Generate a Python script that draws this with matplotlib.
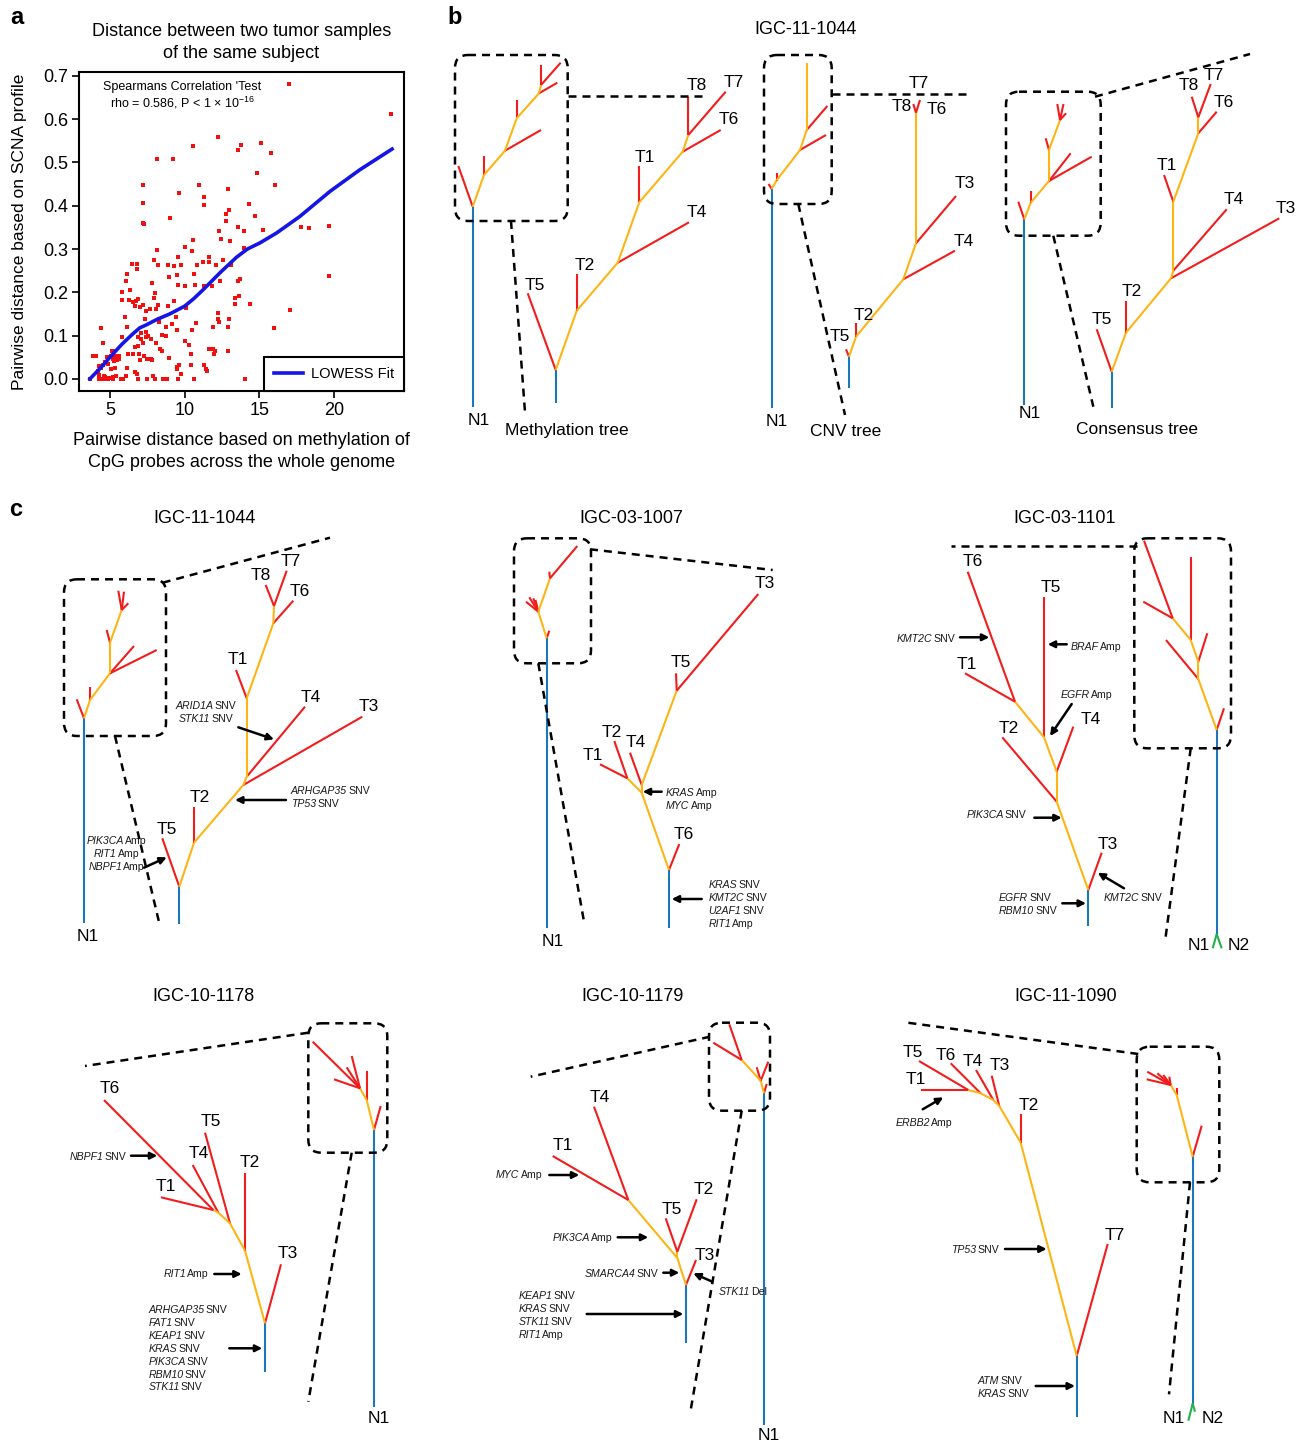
import matplotlib
matplotlib.use("Agg")
import matplotlib.pyplot as plt
from matplotlib.patches import FancyBboxPatch

plt.rcParams['font.family'] = ['Liberation Sans', 'DejaVu Sans']
plt.rcParams['mathtext.fontset'] = 'custom'
plt.rcParams['mathtext.it'] = 'Liberation Sans:italic'
plt.rcParams['mathtext.rm'] = 'Liberation Sans'
plt.rcParams['mathtext.bf'] = 'Liberation Sans:bold'

# ---------------- Panel a data ----------------
meth_dist = [16.97, 23.8, 12.2, 10.57, 13.74, 13.54, 15.1, 15.81, 8.12, 9.21, 14.81, 7.19, 10.93, 16.08, 9.59,
             12.87, 11.29, 11.29, 7.19, 14.32, 9.01, 7.23, 7.27, 13.0, 12.8, 14.68, 12.8, 12.27, 13.56, 13.96,
             15.26, 17.78, 18.31, 19.65, 12.45, 13.03, 10.53, 10.04, 10.49, 8.17, 9.55, 13.96, 7.94, 6.45, 6.78,
             6.83, 8.21, 8.88, 9.26, 9.75, 10.86, 11.22, 11.6, 11.62, 12.09, 12.54, 13.12, 6.11, 6.06, 10.6,
             9.48, 8.92, 7.83, 9.55, 10.04, 10.69, 11.29, 11.82, 12.38, 13.54, 13.7, 19.65, 5.8, 5.8, 6.36,
             7.99, 7.94, 6.3, 6.54, 6.74, 6.85, 6.69, 6.98, 7.23, 8.08, 8.21, 7.39, 7.68, 8.9, 9.26, 10.1,
             13.4, 13.4, 13.65, 14.36, 12.22, 12.25, 12.27, 12.94, 17.06, 6.0, 7.32, 8.3, 8.28, 9.39, 9.15,
             10.75, 4.4, 6.14, 8.72, 11.87, 12.89, 16.01, 7.1, 7.43, 8.46, 8.75, 9.48, 10.46, 5.82, 6.87, 7.05,
             7.39, 7.56, 4.55, 7.19, 7.72, 8.1, 10.04, 10.31, 6.65, 6.87, 8.34, 8.46, 5.13, 5.29, 6.23, 6.56,
             6.94, 11.6, 11.87, 12.0, 11.96, 12.92, 10.42, 3.86, 4.09, 4.82, 5.09, 5.36, 5.62, 7.25, 7.45, 7.72,
             7.81, 8.97, 4.7, 5.2, 5.47, 5.6, 5.3, 4.26, 4.55, 4.9, 6.16, 6.99, 9.64, 9.48, 10.42, 11.27, 11.4,
             11.47, 4.19, 4.42, 5.06, 5.31, 6.69, 6.83, 9.77, 9.48, 3.66, 4.26, 4.44, 4.62, 4.84, 5.18, 5.71,
             5.89, 6.85, 7.5, 7.99, 8.57, 8.83, 9.57, 10.64, 14.03, 4.3, 4.57, 4.68, 5.22, 6.09, 7.85, 5.4, 4.95]
scna_dist = [0.682, 0.613, 0.558, 0.539, 0.540, 0.528, 0.544, 0.522, 0.508, 0.508, 0.476, 0.449, 0.447, 0.447, 0.430,
             0.438, 0.42, 0.402, 0.407, 0.403, 0.372, 0.361, 0.357, 0.39, 0.382, 0.376, 0.364, 0.341, 0.352, 0.342,
             0.345, 0.352, 0.349, 0.353, 0.324, 0.319, 0.32, 0.305, 0.295, 0.298, 0.282, 0.303, 0.275, 0.266, 0.265,
             0.255, 0.262, 0.262, 0.26, 0.262, 0.264, 0.271, 0.281, 0.271, 0.262, 0.275, 0.262, 0.243, 0.227, 0.242,
             0.24, 0.235, 0.222, 0.217, 0.215, 0.218, 0.215, 0.215, 0.225, 0.227, 0.23, 0.237, 0.2, 0.182, 0.205,
             0.199, 0.188, 0.183, 0.178, 0.18, 0.185, 0.168, 0.165, 0.171, 0.161, 0.171, 0.156, 0.161, 0.169, 0.179, 0.164,
             0.174, 0.188, 0.191, 0.174, 0.152, 0.138, 0.131, 0.139, 0.159, 0.144, 0.138, 0.132, 0.139, 0.142, 0.126,
             0.129, 0.117, 0.119, 0.119, 0.119, 0.121, 0.117, 0.106, 0.108, 0.102, 0.1, 0.112, 0.114, 0.096, 0.096, 0.093,
             0.096, 0.098, 0.082, 0.083, 0.092, 0.083, 0.087, 0.078, 0.074, 0.075, 0.069, 0.064, 0.065, 0.064, 0.058, 0.057,
             0.058, 0.07, 0.069, 0.064, 0.058, 0.064, 0.058, 0.052, 0.052, 0.051, 0.052, 0.054, 0.054, 0.052, 0.047, 0.045,
             0.044, 0.048, 0.04, 0.047, 0.043, 0.047, 0.041, 0.029, 0.032, 0.035, 0.026, 0.044, 0.032, 0.027, 0.032, 0.032, 0.022,
             0.019, 0.019, 0.025, 0.022, 0.025, 0.016, 0.012, 0.011, 0.023, 0.0, 0.0, 0.0, 0.0, 0.0, 0.0, 0.0,
             0.0, 0.0, 0.0, 0.0, 0.0, 0.0, 0.0, 0.0, 0.0, 0.008, 0.007, 0.004, 0.004, 0.006, 0.006, 0.006, 0.003]
lowess_x = [3.66, 4.5, 5.0, 5.8, 6.5, 7.0, 7.45, 8.12, 9.0, 10.0, 10.6, 11.24, 12.36, 13.47, 14.2, 15.03, 16.15,
            17.7, 19.72, 21.72, 23.88]
lowess_y = [0.0, 0.03, 0.05, 0.08, 0.103, 0.118, 0.125, 0.137, 0.15, 0.168, 0.185, 0.206, 0.245, 0.281, 0.3,
            0.314, 0.337, 0.375, 0.433, 0.483, 0.531]
x_ticks = [5, 10, 15, 20]
y_ticks = [0.0, 0.1, 0.2, 0.3, 0.4, 0.5, 0.6, 0.7]

# ---------------- Tree data (pixel layout of the figure) ----------------
COL = {'r': '#F21C1C', 'o': '#FDB515', 'b': '#1B76BC', 'g': '#22B24C'}

# Panel b : methylation tree
bm_small_nodes = {'root': (472.7, 407.3), 'a': (472.7, 206.7), 'l1': (458.3, 166), 'b': (484, 175), 'l2': (484, 156),
                  'c': (505, 150.7), 'l3': (541, 130), 'd': (516.7, 118.3), 'l4': (516.7, 100), 'e': (539, 93.3),
                  'l5': (557.3, 82.7), 'f': (541, 85), 'l6': (541, 65), 'l7': (560.7, 62.7)}
bm_small_edges = [('root', 'a', 'b'), ('a', 'l1', 'r'), ('a', 'b', 'o'), ('b', 'l2', 'r'), ('b', 'c', 'o'),
                  ('c', 'l3', 'r'), ('c', 'd', 'o'), ('d', 'l4', 'r'), ('d', 'e', 'o'), ('e', 'l5', 'r'),
                  ('e', 'f', 'o'), ('f', 'l6', 'r'), ('f', 'l7', 'r')]
bm_big_nodes = {'root': (555.7, 402.7), 'A': (555.7, 370), 'T5': (527.7, 293.3), 'B': (576.7, 310.7),
                'T2': (576.7, 274), 'C': (617.7, 262.7), 'T4': (689, 222.3), 'D': (639.3, 202.3), 'T1': (639.3, 165.7),
                'E': (682.7, 151.7), 'T6': (720.7, 130), 'F': (688.3, 135), 'T8': (688.3, 96.7), 'T7': (725.7, 91.7)}
bm_big_edges = [('root', 'A', 'b'), ('A', 'T5', 'r'), ('A', 'B', 'o'), ('B', 'T2', 'r'), ('B', 'C', 'o'),
                ('C', 'T4', 'r'), ('C', 'D', 'o'), ('D', 'T1', 'r'), ('D', 'E', 'o'), ('E', 'T6', 'r'),
                ('E', 'F', 'o'), ('F', 'T8', 'r'), ('F', 'T7', 'r')]
bm_labels = [('T5', 535, 285), ('T2', 585, 265), ('T4', 696.7, 212.3), ('T1', 645, 157), ('T6', 728.3, 120),
             ('T8', 696.7, 85.7), ('T7', 734, 82.3), ('N1', 478.3, 420.7)]
bm_box = (455, 55, 567.7, 221)
bm_dashes = [[(567.7, 95.7), (701.7, 95.7)], [(511, 221), (525, 412.3)]]

# Panel b : CNV tree
bc_small_nodes = {'root': (771.7, 408.3), 'a': (771.7, 189), 'la': (768.5, 184), 'b0': (776.5, 180.5),
                  'lb0': (776.5, 172.5), 'b': (800, 150), 'l1': (826, 135), 'c': (806.7, 130), 'l2': (827.3, 106),
                  'd': (806.7, 62.7)}
bc_small_edges = [('root', 'a', 'b'), ('a', 'la', 'r'), ('a', 'b0', 'o'), ('b0', 'lb0', 'r'), ('b0', 'b', 'o'),
                  ('b', 'l1', 'r'), ('b', 'c', 'o'), ('c', 'l2', 'r'), ('c', 'd', 'o')]
bc_big_nodes = {'root': (849, 388.3), 'A': (849, 356.7), 'T5': (846, 349.3), 'B': (856, 336.7), 'T2': (856, 323.3),
                'C': (903.3, 279.3), 'T4': (955, 250.7), 'D': (916, 243.3), 'T3': (956, 196), 'E': (916, 112.7),
                'T8': (913.3, 104), 'T7': (920, 100)}
bc_big_edges = [('root', 'A', 'b'), ('A', 'T5', 'r'), ('A', 'B', 'o'), ('B', 'T2', 'r'), ('B', 'C', 'o'),
                ('C', 'T4', 'r'), ('C', 'D', 'o'), ('D', 'T3', 'r'), ('D', 'E', 'o'), ('E', 'T8', 'r'),
                ('E', 'T7', 'r')]
bc_labels = [('T5', 840, 336.7), ('T2', 863.3, 315), ('T4', 963.3, 241.7), ('T3', 965, 183.3), ('T8', 901.7, 106.7),
             ('T7', 918.3, 83.3), ('T6', 936.7, 109.3), ('N1', 776.7, 421.7)]
bc_box = (764, 55, 831.7, 204)
bc_dashes = [[(831.7, 94), (966, 94)], [(798.3, 204), (845, 415)]]

# Panel b : consensus tree
bs_small_nodes = {'root': (1024.3, 405), 'a': (1024.3, 219.3), 'l1': (1018.3, 201.7), 'b': (1030.7, 202.7),
                  'l2': (1030.7, 190.7), 'c': (1049, 181), 'l3': (1091.7, 156.7), 'l4': (1070.7, 153.3),
                  'd': (1049, 150), 'l5': (1045.7, 138.3), 'e': (1060, 120), 'l7': (1057.3, 104),
                  'l8': (1063.5, 104), 'l9': (1066, 113.3)}
bs_small_edges = [('root', 'a', 'b'), ('a', 'l1', 'r'), ('a', 'b', 'o'), ('b', 'l2', 'r'), ('b', 'c', 'o'),
                  ('c', 'l3', 'r'), ('c', 'l4', 'r'), ('c', 'd', 'o'), ('d', 'l5', 'r'), ('d', 'e', 'o'),
                  ('e', 'l7', 'r'), ('e', 'l8', 'r'), ('e', 'l9', 'r')]
bs_big_nodes = {'root': (1111.7, 407.7), 'A': (1111.7, 371.7), 'T5': (1096.7, 329.3), 'B': (1126, 332.7),
                'T2': (1126, 300.7), 'C1': (1171, 278.3), 'T3': (1279.3, 218.3), 'C2': (1173.3, 270.7),
                'T4': (1226.7, 209.3), 'D': (1173.3, 201.7), 'T1': (1164, 175), 'E': (1198.3, 133.3),
                'T6': (1216.7, 111.7), 'F': (1198.3, 117.3), 'T8': (1191.7, 96.7), 'T7': (1210.7, 84)}
bs_big_edges = [('root', 'A', 'b'), ('A', 'T5', 'r'), ('A', 'B', 'o'), ('B', 'T2', 'r'), ('B', 'C1', 'o'),
                ('C1', 'T3', 'r'), ('C1', 'C2', 'o'), ('C2', 'T4', 'r'), ('C2', 'D', 'o'), ('D', 'T1', 'r'),
                ('D', 'E', 'o'), ('E', 'T6', 'r'), ('E', 'F', 'o'), ('F', 'T8', 'r'), ('F', 'T7', 'r')]
bs_labels = [('T5', 1101.7, 320), ('T2', 1131.7, 291.7), ('T3', 1286, 208.3), ('T4', 1234, 200), ('T1', 1166.7, 165),
             ('T6', 1224, 102.7), ('T8', 1188.3, 86), ('T7', 1213.3, 75), ('N1', 1029.3, 413.3)]
bs_box = (1006, 91.7, 1100.7, 235.7)
bs_dashes = [[(1095, 96.7), (1250, 54)], [(1053.3, 235.7), (1093.3, 406.7)]]

b_captions = [('Methylation tree', 566.7, 430.7), ('CNV tree', 846, 432), ('Consensus tree', 1136.7, 430)]

# Panel c1 : IGC-11-1044
c1_small_nodes = {'root': (84, 922.7), 'a': (84, 718.3), 'l1': (76.7, 699.3), 'b': (90, 700), 'l2': (90, 686.7),
                  'c': (110, 673.3), 'l3': (156.7, 650), 'l4': (134, 646), 'd': (110, 642.7), 'l5': (106.7, 630),
                  'e': (121.7, 610), 'l6': (118.3, 590.7), 'l7': (128.3, 603.3), 'l8': (124, 591.7)}
c1_small_edges = [('root', 'a', 'b'), ('a', 'l1', 'r'), ('a', 'b', 'o'), ('b', 'l2', 'r'), ('b', 'c', 'o'),
                  ('c', 'l3', 'r'), ('c', 'l4', 'r'), ('c', 'd', 'o'), ('d', 'l5', 'r'), ('d', 'e', 'o'),
                  ('e', 'l6', 'r'), ('e', 'l7', 'r'), ('e', 'l8', 'r')]
c1_big_nodes = {'root': (179.3, 924), 'A': (179.3, 886.7), 'T5': (162.3, 838.3), 'B': (194, 842.7),
                'T2': (194, 806.7), 'C': (243.3, 785), 'T3': (362.3, 716.7), 'C2': (246.7, 776.7),
                'T4': (305, 706.7), 'D': (246.7, 698.3), 'T1': (236, 670), 'E': (273.3, 623.3),
                'T6': (293.3, 600.7), 'F': (274, 606), 'T8': (265.7, 585), 'T7': (286.7, 570.7)}
c1_big_edges = [('root', 'A', 'b'), ('A', 'T5', 'r'), ('A', 'B', 'o'), ('B', 'T2', 'r'), ('B', 'C', 'o'),
                ('C', 'T3', 'r'), ('C', 'C2', 'o'), ('C2', 'T4', 'r'), ('C2', 'D', 'o'), ('D', 'T1', 'r'),
                ('D', 'E', 'o'), ('E', 'T6', 'r'), ('E', 'F', 'o'), ('F', 'T8', 'r'), ('F', 'T7', 'r')]
c1_labels = [('T5', 166.7, 829.3), ('T2', 199.3, 797.7), ('T3', 368.3, 706.7), ('T4', 310.7, 697.3),
             ('T1', 238.3, 660), ('T6', 299.3, 591.7), ('T8', 260.7, 575), ('T7', 290.7, 561), ('N1', 87.3, 936.7)]
c1_box = (64, 579.3, 166, 736)
c1_dashes = [[(162.7, 582.7), (330, 537.7)], [(115, 736), (159.3, 923.3)]]
c1_notes = [(['ARID1A|SNV', 'STK11|SNV'], 'center', 205.7, 705, (238.3, 727.3), (274, 739.3)),
            (['ARHGAP35|SNV', 'TP53|SNV'], 'left', 291, 790, (286, 800), (235, 800)),
            (['PIK3CA|Amp', 'RIT1|Amp', 'NBPF1|Amp'], 'center', 116.7, 840, (144, 867.7), (166.7, 857.3))]

# Panel c2 : IGC-03-1007
c2_small_nodes = {'root': (546.7, 928.3), 'a': (546.7, 638.3), 'l1': (549.3, 630.7), 'b': (538.3, 611.7),
                  'l2': (533.3, 598.3), 'l3': (529.3, 597.3), 'l4': (526, 601.7), 'l5': (535.5, 600),
                  'c': (550, 578.3), 'l6': (549.3, 571.7), 'l7': (577.3, 546)}
c2_small_edges = [('root', 'a', 'b'), ('a', 'l1', 'r'), ('a', 'b', 'o'), ('b', 'l2', 'r'), ('b', 'l3', 'r'),
                  ('b', 'l4', 'r'), ('b', 'l5', 'r'), ('b', 'c', 'o'), ('c', 'l6', 'r'), ('c', 'l7', 'r')]
c2_big_nodes = {'root': (669, 928.3), 'A': (669, 870), 'T6': (679.3, 844), 'B': (641.7, 792.7), 'B2': (641.7, 785),
                'C': (627.3, 778.3), 'T1': (600, 764.3), 'T2': (614.3, 741), 'T4': (630, 752.7),
                'D': (676.7, 690.7), 'T5': (676, 673.3), 'T3': (758.3, 594)}
c2_big_edges = [('root', 'A', 'b'), ('A', 'T6', 'r'), ('A', 'B', 'o'), ('B', 'B2', 'o'), ('B', 'C', 'o'),
                ('C', 'T1', 'r'), ('C', 'T2', 'r'), ('B2', 'T4', 'r'), ('B2', 'D', 'o'), ('D', 'T5', 'r'),
                ('D', 'T3', 'r')]
c2_labels = [('T6', 683.3, 834.3), ('T1', 592.7, 755), ('T2', 611.7, 732.3), ('T4', 636, 742.3),
             ('T5', 681, 662.7), ('T3', 764.3, 583.3), ('N1', 552.3, 941.7)]
c2_box = (514, 538.3, 591, 663.3)
c2_dashes = [[(590, 549.3), (772.7, 570)], [(538.3, 663.3), (584, 921.7)]]
c2_notes = [(['KRAS|Amp', 'MYC|Amp'], 'left', 666, 792.3, (661.7, 791.7), (642.7, 791.7)),
            (['KRAS|SNV', 'KMT2C|SNV', 'U2AF1|SNV', 'RIT1|Amp'], 'left', 708.3, 884.3, (701.7, 899), (671.7, 899))]

# Panel c3 : IGC-03-1101
c3_small_nodes = {'root': (1216.7, 934), 'a': (1216.7, 730), 'l1': (1224, 708.3), 'b': (1198.3, 679),
                  'c': (1198.3, 661.7), 'l2': (1166, 640), 'l3': (1207.3, 633.3), 'd': (1190.7, 640),
                  'l4': (1190.7, 557.3), 'e': (1172.7, 618.3), 'l5': (1143.3, 601.7), 'l6': (1144, 540.7),
                  'N1g': (1212.7, 948.3), 'N2g': (1221.7, 948.3)}
c3_small_edges = [('root', 'a', 'b'), ('a', 'l1', 'r'), ('a', 'b', 'o'), ('b', 'l2', 'r'), ('b', 'c', 'o'),
                  ('c', 'l3', 'r'), ('c', 'd', 'o'), ('d', 'l4', 'r'), ('d', 'e', 'o'), ('e', 'l5', 'r'),
                  ('e', 'l6', 'r'), ('root', 'N1g', 'g'), ('root', 'N2g', 'g')]
c3_big_nodes = {'root': (1088.3, 926), 'A': (1088.3, 890), 'T3': (1101.7, 852.7), 'B': (1056.7, 801.7),
                'T2': (1002.3, 737.3), 'C': (1056.7, 771.7), 'T4': (1073.3, 726.7), 'D': (1044, 737.3),
                'T5': (1044, 597.3), 'E': (1015, 701.7), 'T1': (965, 673.3), 'T6': (967.7, 571.7)}
c3_big_edges = [('root', 'A', 'b'), ('A', 'T3', 'r'), ('A', 'B', 'o'), ('B', 'T2', 'r'), ('B', 'C', 'o'),
                ('C', 'T4', 'r'), ('C', 'D', 'o'), ('D', 'T5', 'r'), ('D', 'E', 'o'), ('E', 'T1', 'r'),
                ('E', 'T6', 'r')]
c3_labels = [('T3', 1107.7, 844.3), ('T2', 1008.3, 728.3), ('T4', 1091, 720), ('T5', 1051, 587.7),
             ('T1', 966.7, 664.3), ('T6', 972.7, 561.7), ('N1', 1198.3, 945.7), ('N2', 1238.3, 945.7)]
c3_box = (1134.3, 538.3, 1231, 748.3)
c3_dashes = [[(1136.7, 546), (951, 546)], [(1190.7, 748.3), (1165, 941.7)]]
c3_notes = [(['KMT2C|SNV'], 'right', 955, 637.7, (960, 637.3), (989.3, 637.3)),
            (['BRAF|Amp'], 'left', 1071, 646, (1066.7, 644.3), (1047.7, 644.3)),
            (['EGFR|Amp'], 'left', 1061, 694.3, (1071.7, 704), (1050, 736)),
            (['PIK3CA|SNV'], 'right', 1026.7, 814, (1034.3, 817.7), (1061.7, 817.7)),
            (['KMT2C|SNV'], 'left', 1103.3, 897.3, (1124, 888.3), (1097.7, 872.7)),
            (['EGFR|SNV', 'RBM10|SNV'], 'left', 999, 897.3, (1062.3, 903.3), (1086, 903.3))]

# Panel c4 : IGC-10-1178
c4_small_nodes = {'root': (374, 1406.7), 'a': (374, 1130), 'l1': (380.7, 1106), 'b': (366.7, 1100),
                  'l2': (366.7, 1070.7), 'c': (360, 1088.3), 'l3': (312.7, 1041.7), 'l4': (334, 1079.3),
                  'l5': (346.7, 1067.3), 'l6': (351.7, 1056)}
c4_small_edges = [('root', 'a', 'b'), ('a', 'l1', 'r'), ('a', 'b', 'o'), ('b', 'l2', 'r'), ('b', 'c', 'o'),
                  ('c', 'l3', 'r'), ('c', 'l4', 'r'), ('c', 'l5', 'r'), ('c', 'l6', 'r')]
c4_big_nodes = {'root': (265, 1371.7), 'A': (265, 1323.3), 'T3': (281, 1264.3), 'B': (245, 1250.7),
                'T2': (245, 1172.7), 'C': (230, 1223.3), 'T5': (205, 1132.7), 'D': (218.3, 1212.7),
                'T4': (192.7, 1165), 'E': (213.3, 1210), 'T1': (161, 1197.3), 'T6': (104, 1100)}
c4_big_edges = [('root', 'A', 'b'), ('A', 'T3', 'r'), ('A', 'B', 'o'), ('B', 'T2', 'r'), ('B', 'C', 'o'),
                ('C', 'T5', 'r'), ('C', 'D', 'o'), ('D', 'T4', 'r'), ('D', 'E', 'o'), ('E', 'T1', 'r'),
                ('E', 'T6', 'r')]
c4_labels = [('T3', 287.3, 1254), ('T2', 250, 1162.7), ('T5', 210.7, 1121.7), ('T4', 198.3, 1154),
             ('T1', 165.7, 1186.7), ('T6', 109.3, 1088.3), ('N1', 378.3, 1418.3)]
c4_box = (308.3, 1023.3, 387.3, 1152.7)
c4_dashes = [[(308.3, 1032.7), (85, 1066)], [(351.7, 1152.7), (308.3, 1401.7)]]
c4_notes = [(['NBPF1|SNV'], 'right', 126, 1155.7, (131, 1155.7), (157.3, 1155.7)),
            (['RIT1|Amp'], 'right', 209, 1272.7, (214.3, 1274), (241.7, 1274)),
            (['ARHGAP35|SNV', 'FAT1|SNV', 'KEAP1|SNV', 'KRAS|SNV', 'PIK3CA|SNV', 'RBM10|SNV', 'STK11|SNV'],
             'left', 148.3, 1309.3, (229.3, 1348.3), (262.3, 1348.3))]

# Panel c5 : IGC-10-1179
c5_small_nodes = {'root': (764, 1425), 'a': (764, 1093.3), 'l1': (766.7, 1084), 'b': (760.7, 1080.7),
                  'l2': (768.3, 1061.7), 'l3': (756.7, 1067.3), 'c': (741.7, 1060), 'l4': (713.3, 1042.7),
                  'l5': (729.3, 1024.3)}
c5_small_edges = [('root', 'a', 'b'), ('a', 'l1', 'r'), ('a', 'b', 'o'), ('b', 'l2', 'r'), ('b', 'l3', 'r'),
                  ('b', 'c', 'o'), ('c', 'l4', 'r'), ('c', 'l5', 'r')]
c5_big_nodes = {'root': (686, 1342.7), 'A': (686, 1285), 'T3': (696, 1260), 'B': (677.3, 1258),
                'B2': (677.3, 1251.7), 'T5': (665.7, 1218.3), 'T2': (696.7, 1199.3), 'C': (628.3, 1200),
                'T1': (552.7, 1156), 'T4': (594, 1106.7)}
c5_big_edges = [('root', 'A', 'b'), ('A', 'T3', 'r'), ('A', 'B', 'o'), ('B', 'B2', 'o'), ('B2', 'T5', 'r'),
                ('B2', 'T2', 'r'), ('B', 'C', 'o'), ('C', 'T1', 'r'), ('C', 'T4', 'r')]
c5_labels = [('T3', 705, 1256), ('T5', 671.7, 1209.3), ('T2', 703.3, 1189.3), ('T1', 562.7, 1145),
             ('T4', 599.3, 1097.3), ('N1', 769, 1435)]
c5_box = (709, 1022.7, 770, 1110.7)
c5_dashes = [[(710, 1036.7), (530.7, 1076.7)], [(741.7, 1110.7), (690.7, 1410)]]
c5_notes = [(['MYC|Amp'], 'right', 542.3, 1174.3, (549.3, 1175), (579.3, 1175)),
            (['PIK3CA|Amp'], 'right', 612.7, 1237.3, (617.7, 1237.3), (648.3, 1237.3)),
            (['SMARCA4|SNV'], 'right', 658.3, 1273.3, (663.3, 1272.7), (679.3, 1272.7)),
            (['STK11|Del'], 'left', 719, 1290.7, (712.3, 1281.7), (693.3, 1273.3)),
            (['KEAP1|SNV', 'KRAS|SNV', 'STK11|SNV', 'RIT1|Amp'], 'left', 518.3, 1295, (586.7, 1314), (683.3, 1314))]

# Panel c6 : IGC-11-1090
c6_small_nodes = {'root': (1192.7, 1403.5), 'a': (1192.7, 1156.7), 'l1': (1201.7, 1125.7), 'b': (1176.7, 1095),
                  'l2': (1176.7, 1088.3), 'c': (1170.7, 1085), 'l3': (1146.7, 1079.3), 'l4': (1147.3, 1071.7),
                  'l5': (1157.3, 1073.3), 'l6': (1163.3, 1075), 'l7': (1169.3, 1076.7),
                  'N1g': (1188.3, 1420.7), 'N2g': (1195, 1411.7)}
c6_small_edges = [('root', 'a', 'b'), ('a', 'l1', 'r'), ('a', 'b', 'o'), ('b', 'l2', 'r'), ('b', 'c', 'o'),
                  ('c', 'l3', 'r'), ('c', 'l4', 'r'), ('c', 'l5', 'r'), ('c', 'l6', 'r'), ('c', 'l7', 'r'),
                  ('root', 'N1g', 'g'), ('root', 'N2g', 'g')]
c6_big_nodes = {'root': (1076.7, 1417.3), 'A': (1076.7, 1356), 'T7': (1107.7, 1244), 'B': (1020.7, 1142.7),
                'T2': (1020.7, 1114), 'C': (999.3, 1106), 'T3': (991.7, 1075.7), 'D': (993.3, 1100),
                'T4': (976, 1070), 'E': (980.7, 1093.3), 'T6': (950.7, 1063.3), 'F': (968.3, 1090),
                'T5': (919, 1061), 'T1': (921, 1090)}
c6_big_edges = [('root', 'A', 'b'), ('A', 'T7', 'r'), ('A', 'B', 'o'), ('B', 'T2', 'r'), ('B', 'C', 'o'),
                ('C', 'T3', 'r'), ('C', 'D', 'o'), ('D', 'T4', 'r'), ('D', 'E', 'o'), ('E', 'T6', 'r'),
                ('E', 'F', 'o'), ('F', 'T5', 'r'), ('F', 'T1', 'r')]
c6_labels = [('T7', 1114.3, 1235), ('T2', 1028.3, 1105), ('T3', 1000, 1065), ('T4', 972.7, 1061),
             ('T6', 946, 1055), ('T5', 913.3, 1052.3), ('T1', 916, 1079), ('N1', 1173.3, 1418.3),
             ('N2', 1212.7, 1418.3)]
c6_box = (1136.7, 1046.7, 1219.3, 1182.3)
c6_dashes = [[(1138.3, 1054), (907.7, 1022.7)], [(1190, 1182.3), (1169, 1394.3)]]
c6_notes = [(['ERBB2|Amp'], 'center', 924.3, 1122.3, (922.7, 1109.3), (943.3, 1097.3)),
            (['TP53|SNV'], 'right', 999, 1249, (1005, 1249), (1046.7, 1249)),
            (['ATM|SNV', 'KRAS|SNV'], 'left', 977.7, 1380, (1035.7, 1386), (1075, 1386))]

titles = [('IGC-11-1044', 806, 29), ('IGC-11-1044', 204.3, 518.3), ('IGC-03-1007', 631.7, 518.3),
          ('IGC-03-1101', 1065, 518.3), ('IGC-10-1178', 204, 996.7), ('IGC-10-1179', 632.3, 996.7),
          ('IGC-11-1090', 1066, 996.7)]
panel_letters = [('a', 17, 17), ('b', 455, 18), ('c', 16, 510)]

# ---------------- Figure ----------------
W, H = 1309, 1443
fig = plt.figure(figsize=(W / 100, H / 100), dpi=100)

# Panel a scatter
axa = fig.add_axes([79 / W, 1 - 391 / H, 325 / W, 319 / H])
axa.scatter(meth_dist, scna_dist, marker='s', s=9, color='#F01010', linewidths=0, zorder=2)
axa.plot(lowess_x, lowess_y, color='#1515E6', lw=2.6, label='LOWESS Fit', zorder=3)
axa.set_xlim(2.93, 24.68)
axa.set_ylim(-0.028, 0.709)
axa.set_xticks(x_ticks)
axa.set_yticks(y_ticks)
axa.set_yticklabels([f'{v:.1f}' for v in y_ticks])
axa.tick_params(labelsize=13, length=5, width=1.2, pad=3)
for s in axa.spines.values():
    s.set_linewidth(1.5)
axa.set_xlabel('Pairwise distance based on methylation of\nCpG probes across the whole genome',
               fontsize=13, labelpad=9, linespacing=1.4)
axa.set_ylabel('Pairwise distance based on SCNA profile', fontsize=12.5, labelpad=11)
axa.set_title('Distance between two tumor samples\nof the same subject', fontsize=13, pad=10, linespacing=1.4)
leg = axa.legend(loc='lower right', borderaxespad=0, fancybox=False, edgecolor='black', framealpha=1,
                 fontsize=10.5, handlelength=2.0, handletextpad=0.5, borderpad=0.7)
leg.get_frame().set_linewidth(1.5)

# Overlay for trees (pixel coordinates)
ax = fig.add_axes([0, 0, 1, 1])
ax.set_xlim(0, W)
ax.set_ylim(H, 0)
ax.axis('off')
renderer = fig.canvas.get_renderer()

ax.text(182, 87.3, "Spearmans Correlation 'Test", fontsize=9, ha='center', va='center')
ax.text(182, 103.3, "rho = 0.586, P < 1 × 10$^{-16}$", fontsize=9, ha='center', va='center')


def draw_tree(nodes, edges):
    for p, c, col in edges:
        x0, y0 = nodes[p]
        x1, y1 = nodes[c]
        ax.plot([x0, x1], [y0, y1], color=COL[col], lw=1.5, solid_capstyle='butt', zorder=3)


def draw_labels(labels):
    for t, x, y in labels:
        ax.text(x, y, t, fontsize=12.5, ha='center', va='center', zorder=5)


def draw_box(box):
    x0, y0, x1, y1 = box
    p = FancyBboxPatch((x0, y0), x1 - x0, y1 - y0, boxstyle='round,pad=0,rounding_size=13',
                       fill=False, edgecolor='black', lw=1.8, linestyle=(0, (3.2, 2.4)), zorder=4)
    ax.add_patch(p)


def draw_dashes(dashes):
    for seg in dashes:
        xs = [pt[0] for pt in seg]
        ys = [pt[1] for pt in seg]
        ax.plot(xs, ys, color='black', lw=1.8, linestyle=(0, (3.2, 2.4)), zorder=4)


NOTE_FS = 7.6
SPACE_PX = 1.2


def text_width(t, style):
    tt = ax.text(0, 0, t, fontsize=NOTE_FS, fontstyle=style)
    w = tt.get_window_extent(renderer=renderer).width
    tt.remove()
    return w


def draw_notes(notes):
    for lines, ha, x, y0, start, end in notes:
        for i, ln in enumerate(lines):
            gene, suf = ln.split('|')
            y = y0 + i * 12.85
            wg = text_width(gene, 'italic')
            ws = text_width(suf, 'normal')
            total = wg + SPACE_PX + ws
            if ha == 'left':
                xl = x
            elif ha == 'right':
                xl = x - total
            else:
                xl = x - total / 2
            ax.text(xl, y, gene, fontsize=NOTE_FS, fontstyle='italic', ha='left', va='center_baseline',
                    zorder=5, color='#1a1a1a')
            ax.text(xl + wg + SPACE_PX, y, suf, fontsize=NOTE_FS, ha='left', va='center_baseline',
                    zorder=5, color='#1a1a1a')
        ax.annotate('', xy=end, xytext=start,
                    arrowprops=dict(arrowstyle='-|>', lw=1.8, color='black', mutation_scale=10,
                                    shrinkA=0, shrinkB=0), zorder=6)


trees = [
    (bm_small_nodes, bm_small_edges), (bm_big_nodes, bm_big_edges),
    (bc_small_nodes, bc_small_edges), (bc_big_nodes, bc_big_edges),
    (bs_small_nodes, bs_small_edges), (bs_big_nodes, bs_big_edges),
    (c1_small_nodes, c1_small_edges), (c1_big_nodes, c1_big_edges),
    (c2_small_nodes, c2_small_edges), (c2_big_nodes, c2_big_edges),
    (c3_small_nodes, c3_small_edges), (c3_big_nodes, c3_big_edges),
    (c4_small_nodes, c4_small_edges), (c4_big_nodes, c4_big_edges),
    (c5_small_nodes, c5_small_edges), (c5_big_nodes, c5_big_edges),
    (c6_small_nodes, c6_small_edges), (c6_big_nodes, c6_big_edges),
]
for nodes, edges in trees:
    draw_tree(nodes, edges)

for labels in [bm_labels, bc_labels, bs_labels, c1_labels, c2_labels, c3_labels, c4_labels, c5_labels, c6_labels]:
    draw_labels(labels)
for box in [bm_box, bc_box, bs_box, c1_box, c2_box, c3_box, c4_box, c5_box, c6_box]:
    draw_box(box)
for d in [bm_dashes, bc_dashes, bs_dashes, c1_dashes, c2_dashes, c3_dashes, c4_dashes, c5_dashes, c6_dashes]:
    draw_dashes(d)
for n in [c1_notes, c2_notes, c3_notes, c4_notes, c5_notes, c6_notes]:
    draw_notes(n)

for t, x, y in b_captions:
    ax.text(x, y, t, fontsize=12.5, ha='center', va='center')
for t, x, y in titles:
    ax.text(x, y, t, fontsize=13, ha='center', va='center')
for t, x, y in panel_letters:
    ax.text(x, y, t, fontsize=17, fontweight='bold', ha='center', va='center')

fig.savefig('out.png', dpi=100)
